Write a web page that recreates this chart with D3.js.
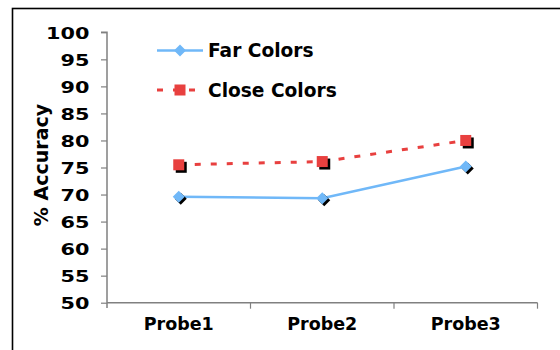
<!DOCTYPE html>
<html><head><meta charset="utf-8">
<script src="https://cdn.jsdelivr.net/npm/d3@7"></script>
<style>body{margin:0;background:#fff}svg{display:block}text{font-family:"DejaVu Sans",Verdana,sans-serif;font-weight:bold;fill:#000}</style>
</head><body>
<svg id="c" width="560" height="350"></svg>
<script>
const categories = ["Probe1", "Probe2", "Probe3"];
const farColors = [69.6, 69.3, 75.2];
const closeColors = [75.5, 76.1, 80.0];
const yTicks = [50, 55, 60, 65, 70, 75, 80, 85, 90, 95, 100];
const seriesNames = ["Far Colors", "Close Colors"];

const svg = d3.select("#c");
svg.append("rect").attr("x", 12.5).attr("y", 8.5).attr("width", 600).attr("height", 400)
  .attr("fill", "#fff").attr("stroke", "#000").attr("stroke-width", 1.6);

const x = d3.scaleBand().domain(categories).range([107, 537.5]).padding(0);
const y = d3.scaleLinear().domain([50, 100]).range([302.7, 32.3]);

// Y axis
const ya = svg.append("g").attr("transform", "translate(107,0)")
  .call(d3.axisLeft(y).tickValues(yTicks).tickSize(6).tickPadding(11).tickFormat(d3.format("d")));
ya.select(".domain").attr("stroke", "#808080").attr("stroke-width", 1.5).attr("d", "M-6,32.3H0V308");
ya.selectAll(".tick line").attr("stroke", "#808080").attr("stroke-width", 1.2);
ya.selectAll(".tick text").attr("font-size", 16).attr("font-family", "DejaVu Sans").attr("font-weight", "bold")
  .attr("fill", "#000").attr("dy", "0.36em").attr("x", 0).attr("transform", "translate(-17.5,0) scale(1.3,1)");

// X axis
const xa = svg.append("g").attr("transform", `translate(0,${y(50)})`)
  .call(d3.axisBottom(x).tickSize(0).tickPadding(15));
xa.select(".domain").attr("stroke", "#808080").attr("stroke-width", 1.5).attr("d", "M107,0H537.5");
xa.selectAll(".tick text").attr("font-size", 17.5).attr("font-family", "DejaVu Sans").attr("font-weight", "bold").attr("fill", "#000");
const bounds = categories.map(c => x(c) + x.bandwidth());
svg.append("g").selectAll("line").data(bounds).join("line")
  .attr("x1", d => d).attr("x2", d => d).attr("y1", y(50)).attr("y2", y(50) + 6)
  .attr("stroke", "#808080").attr("stroke-width", 1.2);

// Y label
svg.append("text").attr("transform", "translate(48,165) rotate(-90)").attr("text-anchor", "middle")
  .attr("font-size", 19).text("% Accuracy");

const cx = c => x(c) + x.bandwidth() / 2;
const blue = "#70b8f8", red = "#e8403f";

const line = d3.line().x((d, i) => cx(categories[i])).y(d => y(d));

// Close series
svg.append("path").attr("d", line(closeColors)).attr("fill", "none").attr("stroke", red)
  .attr("stroke-width", 3).attr("stroke-dasharray", "6,10");
// Far series
svg.append("path").attr("d", line(farColors)).attr("fill", "none").attr("stroke", blue).attr("stroke-width", 2.5);

const diamond = (px, py, s) => `M${px},${py - s}L${px + s},${py}L${px},${py + s}L${px - s},${py}Z`;

// Far markers
farColors.forEach((v, i) => {
  const px = cx(categories[i]), py = y(v);
  svg.append("path").attr("d", diamond(px + 2, py + 2, 6)).attr("fill", "#000");
  svg.append("path").attr("d", diamond(px, py, 6)).attr("fill", blue);
});
// Close markers
closeColors.forEach((v, i) => {
  const px = cx(categories[i]), py = y(v);
  svg.append("rect").attr("x", px - 5.5 + 2.5).attr("y", py - 5.5 + 2.5).attr("width", 11).attr("height", 11).attr("fill", "#000");
  svg.append("rect").attr("x", px - 5.5).attr("y", py - 5.5).attr("width", 11).attr("height", 11).attr("fill", red);
});

// Legend
const lg = svg.append("g");
lg.append("line").attr("x1", 157).attr("x2", 203).attr("y1", 50.5).attr("y2", 50.5).attr("stroke", blue).attr("stroke-width", 2.5);
lg.append("path").attr("d", diamond(180, 50.5, 6)).attr("fill", blue);
lg.append("text").attr("x", 208).attr("y", 57).attr("font-size", 18.6).text(seriesNames[0]);
lg.append("line").attr("x1", 157).attr("x2", 203).attr("y1", 90).attr("y2", 90).attr("stroke", red).attr("stroke-width", 3)
  .attr("stroke-dasharray", "6,10");
lg.append("rect").attr("x", 174.5).attr("y", 84.5).attr("width", 11).attr("height", 11).attr("fill", red);
lg.append("text").attr("x", 208).attr("y", 96.5).attr("font-size", 18.6).text(seriesNames[1]);
</script>
</body></html>
